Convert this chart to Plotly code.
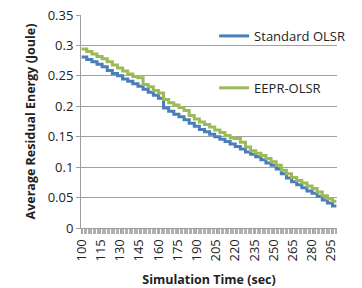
import plotly.graph_objects as go

time_s = [100, 104, 108, 112, 116, 120, 124, 128, 132, 136, 140, 144, 148, 152, 156, 160,
          164, 168, 172, 176, 180, 184, 188, 192, 196, 200, 204, 208, 212, 216, 220, 224,
          228, 232, 236, 240, 244, 248, 252, 256, 260, 264, 268, 272, 276, 280, 284, 288,
          292, 296, 299]

standard_olsr = [0.281, 0.277, 0.273, 0.269, 0.265, 0.259, 0.254, 0.250, 0.245, 0.241,
                 0.237, 0.233, 0.228, 0.223, 0.218, 0.213, 0.197, 0.192, 0.187, 0.183,
                 0.178, 0.172, 0.167, 0.162, 0.158, 0.154, 0.150, 0.146, 0.142, 0.138,
                 0.134, 0.130, 0.125, 0.121, 0.117, 0.112, 0.107, 0.103, 0.097, 0.089,
                 0.082, 0.076, 0.071, 0.066, 0.061, 0.057, 0.052, 0.046, 0.041, 0.036,
                 0.036]

eepr_olsr = [0.294, 0.290, 0.286, 0.282, 0.278, 0.273, 0.268, 0.263, 0.258, 0.253,
             0.249, 0.247, 0.236, 0.232, 0.226, 0.222, 0.211, 0.206, 0.202, 0.198,
             0.193, 0.185, 0.179, 0.174, 0.170, 0.166, 0.161, 0.157, 0.152, 0.148,
             0.147, 0.141, 0.133, 0.127, 0.123, 0.119, 0.114, 0.109, 0.103, 0.095,
             0.089, 0.083, 0.078, 0.074, 0.069, 0.065, 0.059, 0.053, 0.048, 0.044,
             0.044]

x_ticks = list(range(100, 296, 15))
y_ticks = [0, 0.05, 0.1, 0.15, 0.2, 0.25, 0.3, 0.35]

font_family = "Open Sans, Liberation Sans, sans-serif"

fig = go.Figure()
fig.add_trace(go.Scatter(x=time_s, y=standard_olsr, mode="lines", name="Standard OLSR",
                         line=dict(color="#4A7EBB", width=3, shape="hv"),
                         legendgroup="a"))
fig.add_trace(go.Scatter(x=time_s, y=eepr_olsr, mode="lines", name="EEPR-OLSR",
                         line=dict(color="#9BBB59", width=3, shape="hv"),
                         legendgroup="b"))

fig.update_layout(
    width=362, height=288,
    margin=dict(l=81, r=15, t=15, b=60),
    paper_bgcolor="white", plot_bgcolor="white",
    font=dict(family=font_family, size=13, color="#222222"),
    legend=dict(x=0.52, y=0.972, xanchor="left", yanchor="top",
                bgcolor="rgba(0,0,0,0)", tracegroupgap=32,
                font=dict(size=13, color="#222222"), itemwidth=30),
    showlegend=True,
)
fig.update_xaxes(
    automargin=False,
    range=[99.5, 299.5], tickmode="array", tickvals=x_ticks,
    ticktext=[str(v) for v in x_ticks], tickangle=-90,
    showgrid=False, showline=True, linecolor="#A0A0A0", linewidth=1,
    ticks="outside", ticklen=5, tickcolor="#A0A0A0",
    minor=dict(dtick=1, tick0=100, ticks="outside", ticklen=5, tickcolor="#B0B0B0", showgrid=False),
    tickfont=dict(size=13, color="#222222"),
    title=dict(text="<b>Simulation Time (sec)</b>", font=dict(size=12.5, color="#222222"), standoff=14),
    zeroline=False,
)
fig.update_yaxes(
    automargin=False,
    range=[0, 0.35], tickvals=y_ticks, ticktext=["0", "0.05", "0.1", "0.15", "0.2", "0.25", "0.3", "0.35"],
    showgrid=True, gridcolor="#A0A0A0", gridwidth=1,
    showline=True, linecolor="#A0A0A0", linewidth=1,
    ticks="outside", ticklen=4, tickcolor="#A0A0A0",
    tickfont=dict(size=13, color="#222222"),
    title=dict(text="<b>Average Residual Energy (Joule)</b>", font=dict(size=12.5, color="#222222"), standoff=9),
    zeroline=False,
)

fig.write_html("out.html")
